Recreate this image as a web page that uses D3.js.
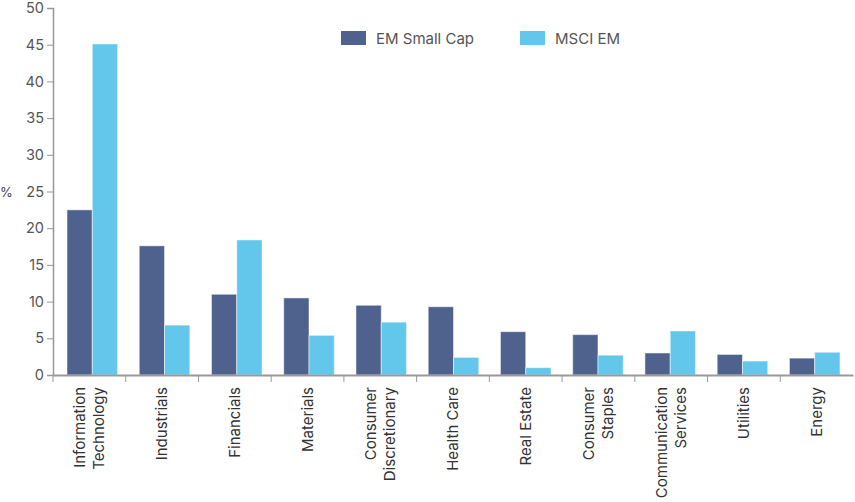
<!DOCTYPE html>
<html>
<head>
<meta charset="utf-8">
<script src="https://cdn.jsdelivr.net/npm/d3@7"></script>
<style>
  body { margin: 0; background: #fff; }
  text { font-family: Inter, "Noto Sans", sans-serif; }
</style>
</head>
<body>
<svg id="chart" width="855" height="502"></svg>
<script>
// sectors (x axis), two lines where the label wraps
var sectors = ["Information Technology", "Industrials", "Financials", "Materials",
    "Consumer Discretionary", "Health Care", "Real Estate", "Consumer Staples",
    "Communication Services", "Utilities", "Energy"];
var sectorLines = [["Information", "Technology"], ["Industrials"], ["Financials"], ["Materials"],
    ["Consumer", "Discretionary"], ["Health Care"], ["Real Estate"], ["Consumer", "Staples"],
    ["Communication", "Services"], ["Utilities"], ["Energy"]];
var seriesNames = ["EM Small Cap", "MSCI EM"];
var emSmallCap = [22.5, 17.6, 11.0, 10.5, 9.5, 9.3, 5.9, 5.5, 3.0, 2.8, 2.3];
var msciEm = [45.1, 6.8, 18.4, 5.4, 7.2, 2.4, 1.0, 2.7, 6.0, 1.9, 3.1];
var yTicks = [0, 5, 10, 15, 20, 25, 30, 35, 40, 45, 50];

var colors = ["#4f628e", "#63c7eb"];
var svg = d3.select("#chart");
var mLeft = 53, mRight = 853, mTop = 8, mBottom = 375;

var y = d3.scaleLinear().domain([0, 50]).range([mBottom, mTop]);
// category slots for ticks and labels
var xAxisScale = d3.scaleBand().domain(sectors).range([mLeft, mRight]).padding(0);
// bar groups
var x0 = d3.scaleBand().domain(sectors).range([mLeft + 1, mRight])
    .paddingInner(0.3).paddingOuter(0.18);
var x1 = d3.scaleBand().domain(seriesNames).range([0, x0.bandwidth()]);

var rows = sectors.map(function (s, i) {
    return {sector: s, values: [emSmallCap[i], msciEm[i]]};
});

//bars
var g = svg.append("g").attr("id", "bars");
g.selectAll("g")
    .data(rows)
    .enter()
    .append("g")
    .attr("transform", function (d) { return "translate(" + x0(d.sector) + ",0)"; })
    .selectAll("rect")
    .data(function (d) {
        return d.values.map(function (v, j) { return {name: seriesNames[j], value: v, j: j}; });
    })
    .enter()
    .append("rect")
    .attr("x", function (d) { return x1(d.name); })
    .attr("y", function (d) { return y(d.value); })
    .attr("width", x1.bandwidth())
    .attr("height", function (d) { return mBottom - y(d.value); })
    .attr("fill", function (d) { return colors[d.j]; })
    .attr("stroke", "#ffffff")
    .attr("stroke-opacity", 0.5)
    .attr("stroke-width", 1);

//y axis
var yAxis = svg.append("g")
    .attr("transform", "translate(" + mLeft + ",0)")
    .call(d3.axisLeft(y).tickValues(yTicks).tickSize(6).tickPadding(3));
yAxis.select(".domain").attr("stroke", "#999").attr("stroke-width", 1.5);
yAxis.selectAll(".tick line").attr("stroke", "#999");
yAxis.selectAll(".tick text")
    .attr("font-size", 14.5)
    .attr("fill", "#555")
    .style("font-family", "Inter, sans-serif");

svg.append("text")
    .attr("x", 0)
    .attr("y", 197)
    .attr("font-size", 13)
    .attr("fill", "#444")
    .text("%");

//x axis
var xAxis = svg.append("g")
    .attr("transform", "translate(0," + mBottom + ")")
    .call(d3.axisBottom(xAxisScale).tickSize(0).tickFormat(""));
xAxis.select(".domain").attr("stroke", "#999").attr("stroke-width", 2);
xAxis.selectAll(".tick").remove();

var boundaries = sectors.map(function (s) { return xAxisScale(s); });
xAxis.selectAll("line.sep")
    .data(boundaries)
    .enter()
    .append("line")
    .attr("class", "sep")
    .attr("x1", function (d) { return d; })
    .attr("x2", function (d) { return d; })
    .attr("y1", 0)
    .attr("y2", 7)
    .attr("stroke", "#999")
    .attr("stroke-width", 1);

var labels = svg.append("g").attr("id", "xlabels");
labels.selectAll("text")
    .data(sectors)
    .enter()
    .append("text")
    .attr("transform", function (d) {
        return "translate(" + (xAxisScale(d) + xAxisScale.bandwidth() / 2) + "," + (mBottom + 12) + ") rotate(-90)";
    })
    .attr("text-anchor", "end")
    .attr("font-size", 15)
    .attr("fill", "#333")
    .each(function (d, i) {
        var lines = sectorLines[i];
        var t = d3.select(this);
        var lh = 19;
        var start = -(lines.length - 1) * lh / 2 + 5;
        lines.forEach(function (line, k) {
            t.append("tspan")
                .attr("x", 0)
                .attr("y", start + k * lh)
                .text(line);
        });
    });

//legend
var legend = svg.append("g").attr("id", "legend");
var legendX = [341, 520];
legend.selectAll("rect")
    .data(seriesNames)
    .enter()
    .append("rect")
    .attr("x", function (d, i) { return legendX[i]; })
    .attr("y", 31)
    .attr("width", 25)
    .attr("height", 14)
    .attr("fill", function (d, i) { return colors[i]; });
legend.selectAll("text")
    .data(seriesNames)
    .enter()
    .append("text")
    .attr("x", function (d, i) { return legendX[i] + 35; })
    .attr("y", 44)
    .attr("font-size", 15)
    .attr("fill", "#555")
    .text(function (d) { return d; });
</script>
</body>
</html>
